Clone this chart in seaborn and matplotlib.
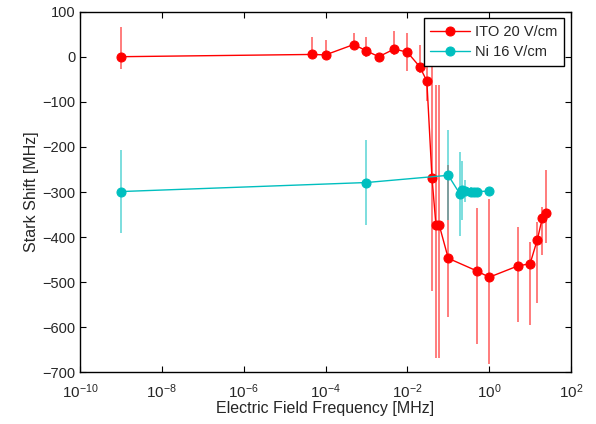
import numpy as np
import pandas as pd
import matplotlib
matplotlib.use("Agg")
import matplotlib.pyplot as plt
import seaborn as sns
from matplotlib.ticker import NullLocator, FixedLocator

sns.set_theme(style="white")
plt.rcParams['font.family'] = ['Liberation Sans', 'DejaVu Sans']
plt.rcParams['mathtext.fontset'] = 'custom'
plt.rcParams['mathtext.rm'] = 'Liberation Sans'
plt.rcParams['mathtext.it'] = 'Liberation Sans'

# ---- data ----
ito_freq = [1e-9, 4.8e-5, 1e-4, 4.9e-4, 1e-3, 2e-3, 4.8e-3, 1e-2, 2e-2, 3e-2,
            4e-2, 5e-2, 6e-2, 0.1, 0.5, 1, 5, 10, 15, 20, 25]
ito_shift = [0, 5, 4, 27, 13, 0, 17, 10, -22, -54,
             -268, -373, -373, -447, -475, -489, -464, -459, -406, -357, -347]
ito_err_lo = [28, 8, 5, 5, 13, 0, 13, 41, 15, 45,
              251, 295, 295, 131, 161, 192, 124, 136, 141, 83, 67]
ito_err_hi = [65, 39, 33, 25, 31, 0, 40, 42, 49, 45,
              258, 310, 310, 207, 140, 174, 86, 49, 39, 24, 96]

ni_freq = [1e-9, 1e-3, 0.1, 0.195, 0.22, 0.26, 0.35, 0.42, 0.5, 1]
ni_shift = [-299, -279, -263, -305, -296, -298, -299, -299, -299, -298]
ni_err = [93, 94, 100, 93, 65, 25, 10, 8, 8, 0]

labels = ["ITO 20 V/cm", "Ni 16 V/cm"]
red = "#ff0000"
cyan = "#00bfbf"

df_ito = pd.DataFrame({"f": ito_freq, "s": ito_shift})
df_ni = pd.DataFrame({"f": ni_freq, "s": ni_shift})

fig = plt.figure(figsize=(5.96, 4.24), dpi=100)
ax = fig.add_axes([80/596, 1-372.4/424, (571-80)/596, (372.4-11.6)/424])

ax.errorbar(ito_freq, ito_shift, yerr=[ito_err_lo, ito_err_hi], fmt="none",
            ecolor=red, elinewidth=1.1, alpha=0.65, capsize=0, zorder=2)
ax.errorbar(ni_freq, ni_shift, yerr=ni_err, fmt="none",
            ecolor=cyan, elinewidth=1.1, alpha=0.65, capsize=0, zorder=2)

sns.lineplot(data=df_ito, x="f", y="s", ax=ax, color=red, marker="o",
             markersize=6.5, markeredgecolor=red, linewidth=1.0, sort=False,
             estimator=None, label=labels[0], zorder=3)
sns.lineplot(data=df_ni, x="f", y="s", ax=ax, color=cyan, marker="o",
             markersize=6.5, markeredgecolor=cyan, linewidth=1.0, sort=False,
             estimator=None, label=labels[1], zorder=3)

ax.set_xscale("log")
ax.set_xlim(1e-10, 1e2)
ax.set_ylim(-700, 100)
ax.xaxis.set_major_locator(FixedLocator([10.0**k for k in range(-10, 3, 2)]))
ax.xaxis.set_minor_locator(NullLocator())
ax.set_yticks(np.arange(-700, 101, 100))

ax.set_xlabel("Electric Field Frequency [MHz]", fontsize=11.5, labelpad=0)
ax.set_ylabel("Stark Shift [MHz]", fontsize=11.5, labelpad=3)
ax.tick_params(axis="both", which="both", direction="in", top=True, right=True,
               length=4, width=0.8, labelsize=10.5, color="black",
               bottom=True, left=True)
ax.tick_params(axis="x", pad=7, labelsize=11)
ax.tick_params(axis="y", pad=3)
for sp in ax.spines.values():
    sp.set_visible(True)
    sp.set_color("black")
    sp.set_linewidth(1.0)
ax.grid(False)

leg = ax.legend(loc="upper right", fontsize=10.5, frameon=True, fancybox=False,
                edgecolor="black", framealpha=1, borderaxespad=0.45,
                handlelength=2.7, handletextpad=0.4, borderpad=0.45,
                labelspacing=0.45)
leg.get_frame().set_linewidth(1.0)

fig.savefig("out.png", dpi=100)
